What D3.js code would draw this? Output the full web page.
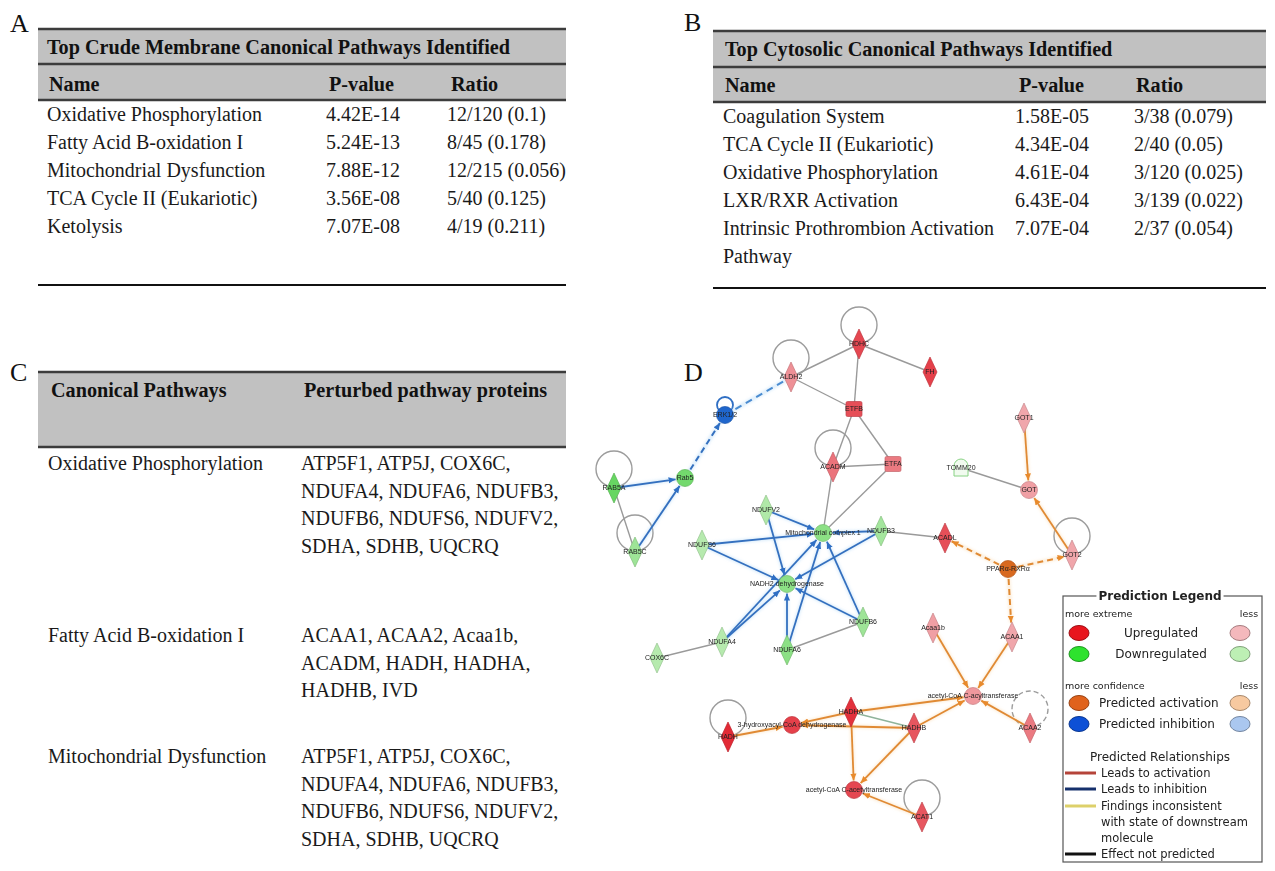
<!DOCTYPE html>
<html>
<head>
<meta charset="utf-8">
<script src="https://cdn.jsdelivr.net/npm/d3@7"></script>
<style>
  html, body { margin: 0; padding: 0; background: #fff; }
  svg { display: block; }
</style>
</head>
<body>
<div id="chart"></div>
<script>
const width = 1275
const height = 871
const serif = '"Liberation Serif", "Times New Roman", serif'
const sans = '"DejaVu Sans", Verdana, sans-serif'
const tiny = '"Liberation Sans", Arial, sans-serif'

// ---- panel A data
const crudeTitle = 'Top Crude Membrane Canonical Pathways Identified'
const tableHeads = ['Name', 'P-value', 'Ratio']
const crudeNames = ['Oxidative Phosphorylation', 'Fatty Acid B-oxidation I', 'Mitochondrial Dysfunction', 'TCA Cycle II (Eukariotic)', 'Ketolysis']
const crudePValues = ['4.42E-14', '5.24E-13', '7.88E-12', '3.56E-08', '7.07E-08']
const crudeRatios = ['12/120 (0.1)', '8/45 (0.178)', '12/215 (0.056)', '5/40 (0.125)', '4/19 (0.211)']

// ---- panel B data
const cytoTitle = 'Top Cytosolic Canonical Pathways Identified'
const cytoNames = [['Coagulation System'], ['TCA Cycle II (Eukariotic)'], ['Oxidative Phosphorylation'], ['LXR/RXR Activation'], ['Intrinsic Prothrombion Activation', 'Pathway']]
const cytoPValues = ['1.58E-05', '4.34E-04', '4.61E-04', '6.43E-04', '7.07E-04']
const cytoRatios = ['3/38 (0.079)', '2/40 (0.05)', '3/120 (0.025)', '3/139 (0.022)', '2/37 (0.054)']

// ---- panel C data
const pathwayHeads = ['Canonical Pathways', 'Perturbed pathway proteins']
const pathwayNames = ['Oxidative Phosphorylation', 'Fatty Acid B-oxidation I', 'Mitochondrial Dysfunction']
const pathwayProteins = [
  ['ATP5F1, ATP5J, COX6C,', 'NDUFA4, NDUFA6, NDUFB3,', 'NDUFB6, NDUFS6, NDUFV2,', 'SDHA, SDHB, UQCRQ'],
  ['ACAA1, ACAA2, Acaa1b,', 'ACADM, HADH, HADHA,', 'HADHB, IVD'],
  ['ATP5F1, ATP5J, COX6C,', 'NDUFA4, NDUFA6, NDUFB3,', 'NDUFB6, NDUFS6, NDUFV2,', 'SDHA, SDHB, UQCRQ']
]

// ---- panel D data (network layout units, regulation level 0..1)
const nodes = [
  { id: 'HDHC', x: 269, y: 24, shape: 'diamond', reg: 'up', level: 0.8, loop: 'solid' },
  { id: 'ALDH2', x: 201, y: 57, shape: 'diamond', reg: 'up', level: 0.3, loop: 'solid' },
  { id: 'FH', x: 340, y: 52, shape: 'diamond', reg: 'up', level: 0.85 },
  { id: 'ETFB', x: 264, y: 89, shape: 'square', reg: 'up', level: 0.75 },
  { id: 'ACADM', x: 243, y: 147, shape: 'diamond', reg: 'up', level: 0.5, loop: 'solid' },
  { id: 'ETFA', x: 303, y: 144, shape: 'square', reg: 'up', level: 0.45 },
  { id: 'ERK1/2', x: 135, y: 95, shape: 'circle', reg: 'inhibit', level: 1 },
  { id: 'Rab5', x: 95, y: 158, shape: 'circle', reg: 'down', level: 0.7 },
  { id: 'RAB5A', x: 24, y: 168, shape: 'diamond', reg: 'down', level: 0.8, loop: 'solid' },
  { id: 'RAB5C', x: 45, y: 232, shape: 'diamond', reg: 'down', level: 0.35, loop: 'solid' },
  { id: 'GOT1', x: 434, y: 98, shape: 'diamond', reg: 'up', level: 0.15 },
  { id: 'TOMM20', x: 371, y: 148, shape: 'cup', reg: 'down', level: 0 },
  { id: 'GOT', x: 439, y: 170, shape: 'circle', reg: 'up', level: 0.2 },
  { id: 'NDUFV2', x: 176, y: 190, shape: 'diamond', reg: 'down', level: 0.2 },
  { id: 'Mitochondrial complex 1', x: 233, y: 213, shape: 'circle', reg: 'down', level: 0.5 },
  { id: 'NDUFB3', x: 291, y: 211, shape: 'diamond', reg: 'down', level: 0.3 },
  { id: 'ACADL', x: 355, y: 218, shape: 'diamond', reg: 'up', level: 0.75 },
  { id: 'GOT2', x: 482, y: 235, shape: 'diamond', reg: 'up', level: 0.15, loop: 'solid' },
  { id: 'PPARα-RXRα', x: 418, y: 249, shape: 'circle', reg: 'activate', level: 1 },
  { id: 'NDUFS6', x: 112, y: 225, shape: 'diamond', reg: 'down', level: 0.15 },
  { id: 'NADH2 dehydrogenase', x: 197, y: 264, shape: 'circle', reg: 'down', level: 0.5 },
  { id: 'NDUFB6', x: 273, y: 302, shape: 'diamond', reg: 'down', level: 0.35 },
  { id: 'NDUFA4', x: 132, y: 322, shape: 'diamond', reg: 'down', level: 0.15 },
  { id: 'NDUFA6', x: 197, y: 330, shape: 'diamond', reg: 'down', level: 0.5 },
  { id: 'COX6C', x: 67, y: 338, shape: 'diamond', reg: 'down', level: 0.15 },
  { id: 'Acaa1b', x: 343, y: 308, shape: 'diamond', reg: 'up', level: 0.2 },
  { id: 'ACAA1', x: 422, y: 317, shape: 'diamond', reg: 'up', level: 0.15 },
  { id: 'acetyl-CoA C-acyltransferase', x: 383, y: 376, shape: 'circle', reg: 'up', level: 0.25 },
  { id: 'ACAA2', x: 440, y: 408, shape: 'diamond', reg: 'up', level: 0.45, loop: 'dashed' },
  { id: 'HADHA', x: 261, y: 392, shape: 'diamond', reg: 'up', level: 0.95 },
  { id: 'HADHB', x: 324, y: 408, shape: 'diamond', reg: 'up', level: 0.7 },
  { id: '3-hydroxyacyl-CoA dehydrogenase', x: 202, y: 405, shape: 'circle', reg: 'up', level: 0.85 },
  { id: 'HADH', x: 138, y: 417, shape: 'diamond', reg: 'up', level: 1, loop: 'solid' },
  { id: 'acetyl-CoA C-acetyltransferase', x: 264, y: 470, shape: 'circle', reg: 'up', level: 0.8 },
  { id: 'ACAT1', x: 332, y: 497, shape: 'diamond', reg: 'up', level: 0.7, loop: 'solid' }
]

const edges = [
  ['HDHC', 'ALDH2', 'plain'], ['HDHC', 'ETFB', 'plain'], ['HDHC', 'FH', 'plain'],
  ['ALDH2', 'ETFB', 'plain'], ['ETFB', 'ACADM', 'plain'], ['ETFB', 'ETFA', 'plain'],
  ['ACADM', 'ETFA', 'plain'], ['ACADM', 'Mitochondrial complex 1', 'plain'], ['ETFA', 'Mitochondrial complex 1', 'plain'],
  ['TOMM20', 'GOT', 'plain'], ['RAB5A', 'RAB5C', 'plain'], ['NDUFA4', 'COX6C', 'plain'],
  ['NDUFA6', 'NDUFB6', 'plain'], ['NDUFB3', 'ACADL', 'plain'], ['HADHA', 'HADHB', 'plainGreen'],
  ['RAB5A', 'Rab5', 'inhibit'], ['RAB5C', 'Rab5', 'inhibit'], ['Rab5', 'ERK1/2', 'inhibitDash'],
  ['ERK1/2', 'ALDH2', 'inhibitDashLight'],
  ['NDUFV2', 'Mitochondrial complex 1', 'inhibit'], ['NDUFV2', 'NADH2 dehydrogenase', 'inhibit'],
  ['NDUFS6', 'Mitochondrial complex 1', 'inhibit'], ['NDUFS6', 'NADH2 dehydrogenase', 'inhibit'],
  ['NDUFB3', 'Mitochondrial complex 1', 'inhibit'], ['NDUFB3', 'NADH2 dehydrogenase', 'inhibit'],
  ['NDUFB6', 'Mitochondrial complex 1', 'inhibit'], ['NDUFB6', 'NADH2 dehydrogenase', 'inhibit'],
  ['NDUFA4', 'Mitochondrial complex 1', 'inhibit'], ['NDUFA4', 'NADH2 dehydrogenase', 'inhibit'],
  ['NDUFA6', 'Mitochondrial complex 1', 'inhibit'], ['NDUFA6', 'NADH2 dehydrogenase', 'inhibit'],
  ['GOT1', 'GOT', 'activate'], ['GOT2', 'GOT', 'activate'],
  ['PPARα-RXRα', 'ACADL', 'activateDash'], ['PPARα-RXRα', 'GOT2', 'activateDash'], ['PPARα-RXRα', 'ACAA1', 'activateDash'],
  ['Acaa1b', 'acetyl-CoA C-acyltransferase', 'activate'], ['ACAA1', 'acetyl-CoA C-acyltransferase', 'activate'],
  ['ACAA2', 'acetyl-CoA C-acyltransferase', 'activate'], ['HADHA', 'acetyl-CoA C-acyltransferase', 'activate'],
  ['HADHB', 'acetyl-CoA C-acyltransferase', 'activate'],
  ['HADH', '3-hydroxyacyl-CoA dehydrogenase', 'activate'], ['HADHA', '3-hydroxyacyl-CoA dehydrogenase', 'activate'],
  ['HADHB', '3-hydroxyacyl-CoA dehydrogenase', 'activate'],
  ['HADHA', 'acetyl-CoA C-acetyltransferase', 'activate'], ['HADHB', 'acetyl-CoA C-acetyltransferase', 'activate'],
  ['ACAT1', 'acetyl-CoA C-acetyltransferase', 'activate']
]

// ---- legend texts
const legendTitle = 'Prediction Legend'
const regulationRows = ['Upregulated', 'Downregulated']
const predictionRows = ['Predicted activation', 'Predicted inhibition']
const relationTitle = 'Predicted Relationships'
const relationRows = [['Leads to activation'], ['Leads to inhibition'], ['Findings inconsistent', 'with state of downstream', 'molecule'], ['Effect not predicted']]

// ---------------------------------------------------------------
const svg = d3.select('#chart')
  .append('svg')
  .attr('width', width)
  .attr('height', height)

svg.append('rect').attr('width', width).attr('height', height).attr('fill', '#fff')

const panelLetter = (x, y, t) => svg.append('text')
  .attr('x', x).attr('y', y)
  .attr('font-family', serif).attr('font-size', 26)
  .attr('fill', '#111')
  .text(t)

panelLetter(10, 32, 'A')
panelLetter(684, 31, 'B')
panelLetter(10, 381, 'C')
panelLetter(684, 381, 'D')

function headerBand (left, right, lines) {
  svg.append('rect')
    .attr('x', left).attr('y', lines[0])
    .attr('width', right - left).attr('height', lines[lines.length - 1] - lines[0])
    .attr('fill', '#c1c1c1')
  svg.selectAll(null)
    .data(lines)
    .enter()
    .append('line')
    .attr('x1', left).attr('x2', right)
    .attr('y1', d => d).attr('y2', d => d)
    .attr('stroke', '#3c3c3c')
    .attr('stroke-width', 2.6)
}

function boldText (x, y, t) {
  svg.append('text')
    .attr('x', x).attr('y', y)
    .attr('font-family', serif).attr('font-size', 20.2).attr('font-weight', 'bold')
    .attr('fill', '#111')
    .text(t)
}

function footLine (left, right, y) {
  svg.append('line')
    .attr('x1', left).attr('x2', right)
    .attr('y1', y).attr('y2', y)
    .attr('stroke', '#111').attr('stroke-width', 2)
}

function column (values, x, yScale) {
  svg.append('g')
    .selectAll('text')
    .data(values)
    .enter()
    .append('text')
    .attr('x', x)
    .attr('y', (d, i) => yScale(i))
    .attr('font-family', serif).attr('font-size', 20)
    .attr('fill', '#1a1a1a')
    .each(function (d) {
      const lines = Array.isArray(d) ? d : [d]
      d3.select(this).selectAll('tspan')
        .data(lines)
        .enter()
        .append('tspan')
        .attr('x', x)
        .attr('dy', (l, j) => j === 0 ? 0 : 27.5)
        .text(l => l)
    })
}

// ---- panel A
headerBand(38, 566, [29, 64, 100])
boldText(47, 54, crudeTitle)
const headXA = [49, 329, 451]
tableHeads.forEach((h, i) => boldText(headXA[i], 91, h))
const rowA = d3.scalePoint().domain(d3.range(crudeNames.length)).range([121, 233])
column(crudeNames, 47, rowA)
column(crudePValues, 326, rowA)
column(crudeRatios, 447, rowA)
footLine(38, 566, 285)

// ---- panel B
headerBand(713, 1266, [31, 67, 102])
boldText(725, 56, cytoTitle)
const headXB = [725, 1019, 1136]
tableHeads.forEach((h, i) => boldText(headXB[i], 92, h))
const rowB = d3.scalePoint().domain(d3.range(cytoNames.length)).range([123, 235])
column(cytoNames, 723, rowB)
column(cytoPValues, 1015, rowB)
column(cytoRatios, 1134, rowB)
footLine(713, 1266, 288)

// ---- panel C
headerBand(38, 566, [372, 447])
boldText(51, 397, pathwayHeads[0])
boldText(304, 397, pathwayHeads[1])
const rowStarts = [470, 642, 763]
const rowC = i => rowStarts[i]
column(pathwayNames, 48, rowC)
column(pathwayProteins, 301, rowC)

// ---- panel D network
const nx = d3.scaleLinear().domain([0, 480]).range([590, 1070])
const ny = d3.scaleLinear().domain([0, 540]).range([320, 860])
const upColor = d3.scaleLinear().domain([0, 1]).range(['#f3bcc0', '#e22a35'])
const downColor = d3.scaleLinear().domain([0, 1]).range(['#c8efc0', '#4fd04a'])
const fillOf = d => d.reg === 'up' ? upColor(d.level)
  : d.reg === 'down' ? downColor(d.level)
    : d.reg === 'inhibit' ? '#1f66cc' : '#d8691f'

const byId = new Map(nodes.map(d => [d.id, d]))

const edgeStyle = {
  plain: { color: '#9a9a9a', width: 1.4, dash: null, arrow: false },
  plainGreen: { color: '#8fb39a', width: 1.4, dash: null, arrow: false },
  inhibit: { color: '#3470bf', width: 1.8, dash: null, arrow: true },
  inhibitDash: { color: '#3470bf', width: 2, dash: '6,4', arrow: true },
  inhibitDashLight: { color: '#4a8bd0', width: 2, dash: '7,5', arrow: false },
  activate: { color: '#e08a34', width: 1.8, dash: null, arrow: true },
  activateDash: { color: '#e08a34', width: 2, dash: '6,4', arrow: true }
}

const defs = svg.append('defs')
defs.append('filter').attr('id', 'soft')
  .append('feGaussianBlur').attr('stdDeviation', 1.4)

const arrowColors = { blue: '#2f6fc4', orange: '#e88a2c' }
Object.entries(arrowColors).forEach(([k, c]) => {
  defs.append('marker')
    .attr('id', 'arrow-' + k)
    .attr('viewBox', '0 -4 8 8')
    .attr('refX', 8).attr('refY', 0)
    .attr('markerWidth', 7).attr('markerHeight', 7)
    .attr('markerUnits', 'userSpaceOnUse')
    .attr('orient', 'auto')
    .append('path')
    .attr('d', 'M0,-3.5L8,0L0,3.5Z')
    .attr('fill', c)
})

function reach (d, ux, uy) {
  if (d.shape === 'diamond') return 1 / (Math.abs(ux) / 7 + Math.abs(uy) / 15)
  if (d.shape === 'square') return Math.min(8 / Math.max(Math.abs(ux), 1e-6), 8 / Math.max(Math.abs(uy), 1e-6))
  return 8.5
}

const net = svg.append('g')

// self loops
net.append('g')
  .selectAll('circle')
  .data(nodes.filter(d => d.loop))
  .enter()
  .append('circle')
  .attr('cx', d => nx(d.x))
  .attr('cy', d => ny(d.y) - 19)
  .attr('r', 18)
  .attr('fill', 'none')
  .attr('stroke', '#9c9c9c')
  .attr('stroke-width', 1.4)
  .attr('stroke-dasharray', d => d.loop === 'dashed' ? '5,3' : null)

// ERK self-loop (blue)
const erk = byId.get('ERK1/2')
net.append('circle')
  .attr('cx', nx(erk.x)).attr('cy', ny(erk.y) - 10)
  .attr('r', 8)
  .attr('fill', 'none')
  .attr('stroke', '#2f6fc4')
  .attr('stroke-width', 1.8)

const edgeData = edges.map(([s, t, type]) => {
  const a = byId.get(s)
  const b = byId.get(t)
  const x1 = nx(a.x); const y1 = ny(a.y)
  const x2 = nx(b.x); const y2 = ny(b.y)
  const len = Math.hypot(x2 - x1, y2 - y1)
  const ux = (x2 - x1) / len; const uy = (y2 - y1) / len
  const st = edgeStyle[type]
  const cut = st.arrow ? reach(b, ux, uy) + 1 : 0
  return { x1, y1, x2: x2 - ux * cut, y2: y2 - uy * cut, st, type }
})

// soft halo under coloured edges
net.append('g')
  .attr('filter', 'url(#soft)')
  .selectAll('line')
  .data(edgeData.filter(d => !d.type.startsWith('plain')))
  .enter()
  .append('line')
  .attr('x1', d => d.x1).attr('y1', d => d.y1)
  .attr('x2', d => d.x2).attr('y2', d => d.y2)
  .attr('stroke', d => d.type.startsWith('inhibit') ? '#a9d2f5' : '#f9d6a6')
  .attr('stroke-width', 3.5)
  .attr('opacity', 0.45)

net.append('g')
  .selectAll('line')
  .data(edgeData)
  .enter()
  .append('line')
  .attr('x1', d => d.x1).attr('y1', d => d.y1)
  .attr('x2', d => d.x2).attr('y2', d => d.y2)
  .attr('stroke', d => d.st.color)
  .attr('stroke-width', d => d.st.width)
  .attr('stroke-dasharray', d => d.st.dash)
  .attr('marker-end', d => d.st.arrow ? (d.type.startsWith('inhibit') ? 'url(#arrow-blue)' : 'url(#arrow-orange)') : null)

// nodes
const nodeG = net.append('g')
  .selectAll('g')
  .data(nodes)
  .enter()
  .append('g')
  .attr('transform', d => `translate(${nx(d.x)},${ny(d.y)})`)

nodeG.each(function (d) {
  const g = d3.select(this)
  const fill = fillOf(d)
  const stroke = d3.color(fill).darker(0.5)
  if (d.shape === 'diamond') {
    g.append('path').attr('d', 'M0,-15L7,0L0,15L-7,0Z')
      .attr('fill', fill).attr('stroke', stroke).attr('stroke-width', 0.7)
  } else if (d.shape === 'square') {
    g.append('rect').attr('x', -8).attr('y', -7.5).attr('width', 16).attr('height', 15).attr('rx', 1.5)
      .attr('fill', fill).attr('stroke', stroke).attr('stroke-width', 0.7)
  } else if (d.shape === 'cup') {
    g.append('path').attr('d', 'M-7,8L-7,-2A7,7 0 0 1 7,-2L7,8Z')
      .attr('fill', '#f1fbef').attr('stroke', '#88d284').attr('stroke-width', 1)
  } else {
    g.append('circle').attr('r', 8.5)
      .attr('fill', fill).attr('stroke', stroke).attr('stroke-width', 0.7)
  }
})

nodeG.append('text')
  .attr('text-anchor', 'middle')
  .attr('dy', '0.35em')
  .attr('font-family', tiny)
  .attr('font-size', 7)
  .attr('fill', '#222')
  .text(d => d.id)

// ---- legend
const lg = svg.append('g')
const box = { left: 1063, right: 1262, top: 596, bottom: 862 }
lg.append('rect')
  .attr('x', box.left).attr('y', box.top)
  .attr('width', box.right - box.left).attr('height', box.bottom - box.top)
  .attr('fill', '#fff').attr('stroke', '#555').attr('stroke-width', 1.2)

const titleText = lg.append('text')
  .attr('x', 1160).attr('y', box.top + 4)
  .attr('text-anchor', 'middle')
  .attr('font-family', sans).attr('font-size', 12).attr('font-weight', 'bold')
  .attr('fill', '#222')
  .text(legendTitle)
const tb = titleText.node().getBBox()
lg.insert('rect', 'text')
  .attr('x', tb.x - 2).attr('y', tb.y).attr('width', tb.width + 4).attr('height', tb.height)
  .attr('fill', '#fff')

const small = (x, y, t, anchor) => lg.append('text')
  .attr('x', x).attr('y', y)
  .attr('text-anchor', anchor || 'start')
  .attr('font-family', sans).attr('font-size', 9.5)
  .attr('fill', '#222')
  .text(t)

small(1065, 617, 'more extreme')
small(1249, 617, 'less', 'middle')
small(1065, 689, 'more confidence')
small(1249, 689, 'less', 'middle')

const swatchPairs = [['#e8151d', '#f4b8bc'], ['#2ee22e', '#bdefb4'], ['#e0621c', '#f7c9a0'], ['#0d50d6', '#aac7ef']]
const legendRowsY = d3.scalePoint().domain(d3.range(2)).range([633, 654])
const legendRowsY2 = d3.scalePoint().domain(d3.range(2)).range([703, 724])

function swatchRow (labels, yScale, pairs, centered) {
  labels.forEach((t, i) => {
    const y = yScale(i)
    pairs[i].forEach((c, j) => {
      lg.append('ellipse')
        .attr('cx', j === 0 ? 1079 : 1240).attr('cy', y)
        .attr('rx', 10).attr('ry', 7.5)
        .attr('fill', c)
        .attr('stroke', d3.color(c).darker(1.1))
        .attr('stroke-width', 1)
    })
    lg.append('text')
      .attr('x', centered ? 1161 : 1099).attr('y', y)
      .attr('dy', '0.35em')
      .attr('text-anchor', centered ? 'middle' : 'start')
      .attr('font-family', sans).attr('font-size', 12)
      .attr('fill', '#222')
      .text(t)
  })
}
swatchRow(regulationRows, legendRowsY, swatchPairs.slice(0, 2), true)
swatchRow(predictionRows, legendRowsY2, swatchPairs.slice(2), false)

lg.append('text')
  .attr('x', 1160).attr('y', 757)
  .attr('dy', '0.35em')
  .attr('text-anchor', 'middle')
  .attr('font-family', sans).attr('font-size', 12)
  .attr('fill', '#222')
  .text(relationTitle)

const relationColors = ['#b5443a', '#16306c', '#ddd06a', '#111']
const relationY = [773, 789, 806, 854]
relationRows.forEach((lines, i) => {
  lg.append('line')
    .attr('x1', 1065).attr('x2', 1096)
    .attr('y1', relationY[i]).attr('y2', relationY[i])
    .attr('stroke', relationColors[i]).attr('stroke-width', 3)
  lg.append('text')
    .attr('y', relationY[i])
    .attr('font-family', sans).attr('font-size', 11.5)
    .attr('fill', '#222')
    .selectAll('tspan')
    .data(lines)
    .enter()
    .append('tspan')
    .attr('x', 1101)
    .attr('dy', (l, j) => j === 0 ? '0.35em' : 16)
    .text(l => l)
})
</script>
</body>
</html>
